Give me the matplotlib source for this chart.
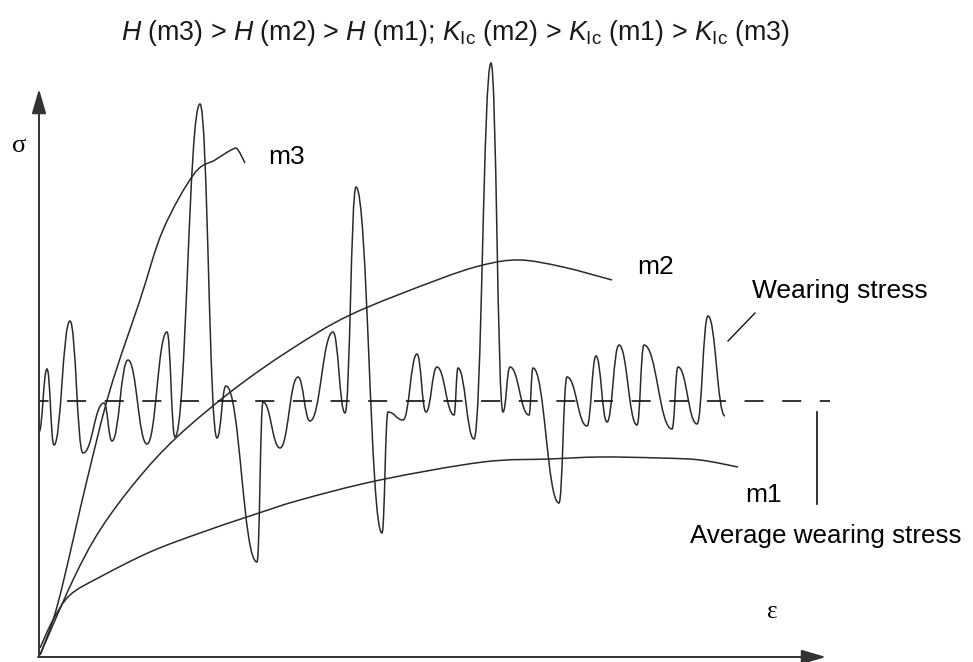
import numpy as np
import matplotlib.pyplot as plt
from matplotlib.path import Path
from matplotlib.patches import PathPatch

plt.rcParams['font.family'] = ['Liberation Sans', 'DejaVu Sans']
plt.rcParams['mathtext.fontset'] = 'custom'
plt.rcParams['mathtext.rm'] = 'Liberation Sans'
plt.rcParams['mathtext.it'] = 'Liberation Sans:italic'
plt.rcParams['lines.scale_dashes'] = False

# stress-strain curves of the three materials (x = strain, y = stress, screen units)
m1_x = [40, 53, 70, 100, 150, 200, 250, 300, 380, 483, 550, 600, 660, 700, 738]
m1_y = [648, 620, 595, 577, 552, 533, 516, 500, 480, 462, 459, 457, 458, 460, 467]

m2_x = [40, 73, 100, 137, 177, 233, 290, 350, 437, 483, 520, 563, 612]
m2_y = [655, 580, 530, 480, 437, 390, 350, 315, 280, 265, 260, 267, 280]

m3_x = [40, 58, 87, 110, 140, 163, 194, 215, 233, 238, 245]
m3_y = [655, 603, 480, 390, 300, 230, 174, 160, 149, 150, 163]

# turning points of the fluctuating wearing stress
wear_x = [39, 47, 54, 70, 83, 104, 112, 128, 147, 167, 175, 200, 217, 226, 257, 263,
          280, 298, 310, 333, 345, 356, 382, 388, 403, 417, 426, 437, 454, 458, 474,
          491, 503, 510, 529, 533, 559, 567, 587, 596, 607, 619, 637, 644, 672, 678,
          697, 708, 725]
wear_y = [432, 369, 445, 321, 453, 403, 441, 360, 444, 332, 437, 104, 438, 386, 562, 402,
          448, 377, 421, 332, 413, 187, 533, 412, 420, 354, 412, 367, 415, 368, 439,
          63, 412, 367, 415, 368, 503, 377, 426, 356, 422, 345, 425, 345, 429, 367,
          424, 316, 416]

avg_stress = 401
title = (r"$H$ (m3) > $H$ (m2) > $H$ (m1); $K_{\mathrm{Ic}}$ (m2) > "
         r"$K_{\mathrm{Ic}}$ (m1) > $K_{\mathrm{Ic}}$ (m3)")


def smooth_path(xs, ys):
    # Catmull-Rom through the points, written as cubic Bezier segments
    p = np.column_stack([xs, ys]).astype(float)
    p = np.vstack([p[0], p, p[-1]])
    verts = [p[1]]
    codes = [Path.MOVETO]
    for i in range(1, len(p) - 2):
        c1 = p[i] + (p[i + 1] - p[i - 1]) / 6
        c2 = p[i + 1] - (p[i + 2] - p[i]) / 6
        verts += [c1, c2, p[i + 1]]
        codes += [Path.CURVE4] * 3
    return Path(verts, codes)


def wave_path(xs, ys):
    # flat tangent at every peak and trough
    verts = [(xs[0], ys[0])]
    codes = [Path.MOVETO]
    for i in range(len(xs) - 1):
        dx = xs[i + 1] - xs[i]
        verts += [(xs[i] + 0.45 * dx, ys[i]), (xs[i + 1] - 0.45 * dx, ys[i + 1]),
                  (xs[i + 1], ys[i + 1])]
        codes += [Path.CURVE4] * 3
    return Path(verts, codes)


fig = plt.figure(figsize=(9.73, 6.62), dpi=100)
ax = fig.add_axes([0, 0, 1, 1])
ax.set_xlim(0, 973)
ax.set_ylim(662, 0)
ax.axis('off')

ink = '#2a2a2a'

# axes with arrow heads
arrow = dict(arrowstyle='-|>,head_length=0.75,head_width=0.22', lw=1.4,
             color='#333333', mutation_scale=20, shrinkA=0, shrinkB=0)
ax.annotate('', xy=(39, 89), xytext=(39, 657), arrowprops=arrow)
ax.annotate('', xy=(826, 657), xytext=(38, 657), arrowprops=arrow)

for xs, ys in [(m1_x, m1_y), (m2_x, m2_y), (m3_x, m3_y)]:
    ax.add_patch(PathPatch(smooth_path(xs, ys), fill=False, lw=1.1, ec=ink))

ax.add_patch(PathPatch(wave_path(wear_x, wear_y), fill=False, lw=1.1, ec=ink))

# average wearing stress
ax.plot([39, 830], [avg_stress, avg_stress], color='#111111', lw=1.2,
        linestyle=(6.9, (13.7, 13.4)), dash_capstyle='butt')
ax.plot([817, 817], [412, 504], color='#111111', lw=1.2)
ax.plot([755, 728], [313, 341], color='#111111', lw=1.0)

fs = 19
ax.text(456, 33, title, fontsize=19.3, ha='center', va='center', color='#1a1a1a')
ax.text(19, 146, 'σ', fontsize=fs, ha='center', va='center', family='Liberation Serif')
ax.text(772, 612, 'ε', fontsize=fs - 1, ha='center', va='center', family='Liberation Serif')
ax.text(268, 157, 'm3', fontsize=fs, ha='left', va='center')
ax.text(637, 267, 'm2', fontsize=fs, ha='left', va='center')
ax.text(745, 495, 'm1', fontsize=fs, ha='left', va='center')
ax.text(752, 291, 'Wearing stress', fontsize=fs, ha='left', va='center')
ax.text(690, 536, 'Average wearing stress', fontsize=18.7, ha='left', va='center')

fig.savefig('out.png', dpi=100)
